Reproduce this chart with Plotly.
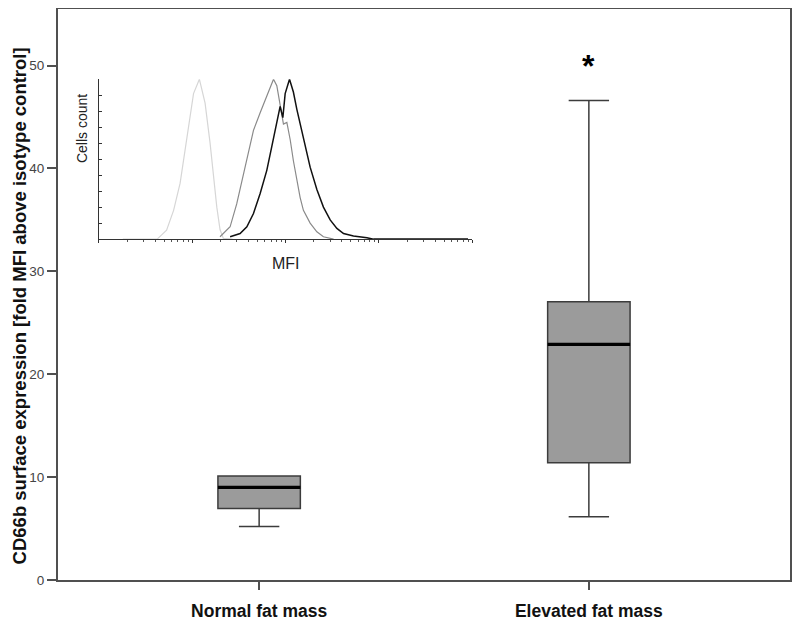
import plotly.graph_objects as go

# ---- main box plot data ----
categories = ["Normal fat mass", "Elevated fat mass"]
lower_whisker = [5.2, 6.15]
q1 = [6.95, 11.4]
median = [9.0, 22.9]
q3 = [10.1, 27.05]
upper_whisker = [10.1, 46.6]
significance = ["", "*"]
sig_y = [None, 50.0]
y_ticks = [0, 10, 20, 30, 40, 50]

# ---- inset histogram data (MFI, % of max count) ----
iso_mfi = [1.8, 4.2, 5.3, 6.3, 7.4, 8.7, 10.3, 11.9, 13.7, 15.5, 16.8, 18.3, 19.8, 21.5, 27]
iso_cnt = [0, 0, 5.6, 18, 35, 64, 91, 100, 85, 60, 39, 20, 6, 0.4, 0]

normal_mfi = [19.8, 25.4, 29.9, 35.3, 41.6, 45.2, 53.3, 62.8, 71.1, 74.1, 80.4, 87.3, 94.7,
              103, 112, 121, 132, 143, 155, 183, 216, 254, 326]
normal_cnt = [1.5, 7.7, 22, 41, 60, 68, 79, 89, 97, 100, 96, 85, 72,
              73, 62, 49, 37, 26, 18, 10, 4.6, 1.5, 0]

elev_mfi = [25.4, 32.5, 38.4, 45.2, 53.3, 62.8, 71.1, 80.4, 87.3, 93.3, 98.8, 110, 121, 132,
            143, 155, 183, 216, 254, 300, 354, 417, 533, 743, 875, 9000]
elev_cnt = [1.5, 3.5, 7.7, 16, 28.5, 43, 58, 72, 83, 76, 91, 100, 92, 81,
            72, 62, 45, 31, 20, 12, 6.7, 3.5, 1.9, 0.8, 0, 0]

FONT = "Liberation Sans, Arial, sans-serif"
BOX_W = 0.25

fig = go.Figure()

for i, c in enumerate(categories):
    fig.add_trace(go.Box(
        x=[c], q1=[q1[i]], median=[median[i]], q3=[q3[i]],
        lowerfence=[lower_whisker[i]], upperfence=[upper_whisker[i]],
        width=BOX_W, whiskerwidth=0.49,
        fillcolor="#9b9b9b", line=dict(color="#3c3c3c", width=1.5),
        boxpoints=False, showlegend=False, hoverinfo="skip",
        xaxis="x", yaxis="y",
    ))
    # thick median line
    fig.add_shape(type="line", xref="x", yref="y",
                  x0=i - BOX_W / 2, x1=i + BOX_W / 2, y0=median[i], y1=median[i],
                  line=dict(color="#000000", width=3.2), layer="above")
    if significance[i]:
        fig.add_annotation(x=c, y=sig_y[i], xref="x", yref="y", text="<b>" + significance[i] + "</b>",
                           showarrow=False, font=dict(family=FONT, size=32, color="#000"),
                           yanchor="middle")

# inset histograms
for xs, ys, col, w in [(iso_mfi, iso_cnt, "#d6d6d6", 1.2),
                       (normal_mfi, normal_cnt, "#8a8a8a", 1.2),
                       (elev_mfi, elev_cnt, "#111111", 1.5)]:
    fig.add_trace(go.Scatter(x=xs, y=ys, mode="lines", line=dict(color=col, width=w),
                             xaxis="x2", yaxis="y2", showlegend=False, hoverinfo="skip"))

# axis titles as annotations for exact placement
fig.add_annotation(xref="paper", yref="paper", x=-0.0526, y=0.48, textangle=-90,
                   text="<b>CD66b surface expression [fold MFI above isotype control]</b>",
                   showarrow=False, font=dict(family=FONT, size=18.5, color="#111"),
                   xanchor="center", yanchor="middle")
fig.add_annotation(xref="paper", yref="paper", x=0.033, y=0.79, textangle=-90,
                   text="Cells count", showarrow=False,
                   font=dict(family=FONT, size=14, color="#222"),
                   xanchor="center", yanchor="middle")
fig.add_annotation(xref="paper", yref="paper", x=0.311, y=0.555,
                   text="MFI", showarrow=False,
                   font=dict(family=FONT, size=16, color="#222"),
                   xanchor="center", yanchor="middle")

# page body has an 8px default margin; size/margins compensate for it
fig.update_layout(
    width=792, height=615,
    margin=dict(l=50, r=10, t=1, b=43, autoexpand=False),
    paper_bgcolor="white", plot_bgcolor="white",
    font=dict(family=FONT, color="#000"),
    xaxis=dict(
        type="category", range=[-0.61, 1.61], domain=[0, 1], automargin=False,
        showline=True, mirror=True, linecolor="#505050", linewidth=2,
        ticks="outside", ticklen=8, tickwidth=1.5, tickcolor="#505050",
        showgrid=False, zeroline=False, ticklabelstandoff=6,
        tickfont=dict(family=FONT, size=17.5, color="#111"),
        tickprefix="<b>", ticksuffix="</b>",
    ),
    yaxis=dict(
        range=[0, 55.5], domain=[0, 1], tickvals=y_ticks, automargin=False,
        showline=True, mirror=True, linecolor="#505050", linewidth=2,
        ticks="outside", ticklen=9, tickwidth=1.5, tickcolor="#505050",
        showgrid=False, zeroline=False,
        tickfont=dict(family=FONT, size=13.5, color="#444"),
    ),
    xaxis2=dict(
        type="log", range=[0, 4], domain=[0.056, 0.566], anchor="y2", automargin=False,
        showline=True, linecolor="#333", linewidth=1,
        ticks="outside", ticklen=3, tickcolor="#333", showticklabels=False,
        dtick=1, minor=dict(ticks="outside", ticklen=2, tickcolor="#555", showgrid=False),
        showgrid=False, zeroline=False,
    ),
    yaxis2=dict(
        range=[0, 100], domain=[0.597, 0.877], anchor="x2", automargin=False,
        showline=True, linecolor="#333", linewidth=1,
        ticks="inside", ticklen=3, tickcolor="#333", dtick=10, showticklabels=False,
        showgrid=False, zeroline=False,
    ),
)

fig.write_html("out.html")
